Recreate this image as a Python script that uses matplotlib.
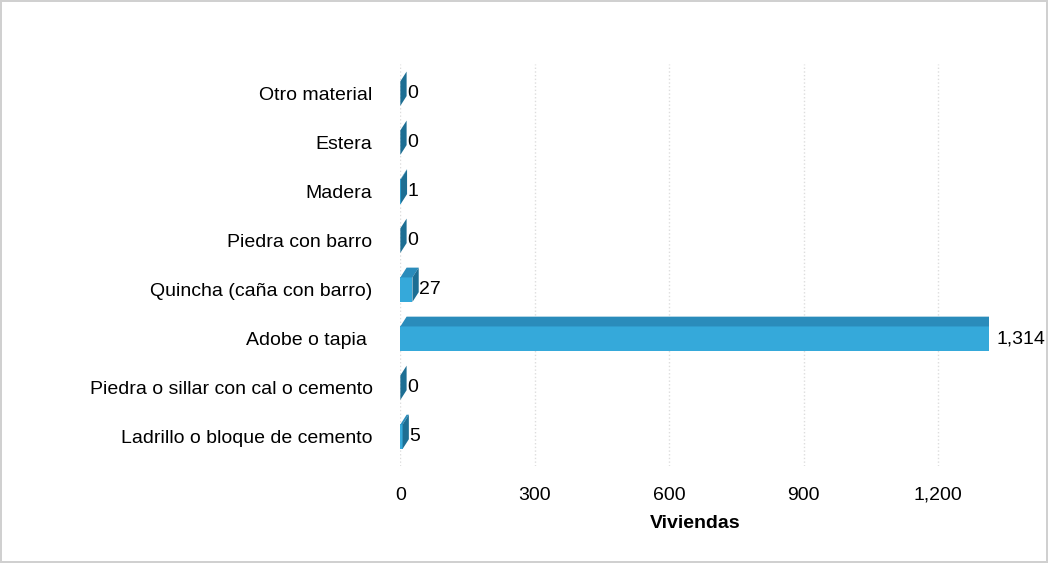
import matplotlib.pyplot as plt
from matplotlib.patches import Polygon

plt.rcParams['font.family'] = ['Liberation Sans Narrow', 'Liberation Sans', 'DejaVu Sans']

# material predominante en paredes
categorias = ['Ladrillo o bloque de cemento', 'Piedra o sillar con cal o cemento',
              'Adobe o tapia ', 'Quincha (caña con barro)', 'Piedra con barro',
              'Madera', 'Estera', 'Otro material']
viviendas = [5, 0, 1314, 27, 0, 1, 0, 0]
etiquetas = ['5', '0', '1,314', '27', '0', '1', '0', '0']
ticks_x = [0, 300, 600, 900, 1200]
ticks_txt = ['0', '300', '600', '900', '1,200']

fig = plt.figure(figsize=(10.48, 5.63), dpi=100)
fig.patch.set_edgecolor('#d0d0d0')
fig.patch.set_linewidth(1.5)
ax = fig.add_axes([0.382, 0.172, 0.562, 0.714])

alto = 0.5
dx = 14      # profundidad en unidades de datos
dy = 0.2     # profundidad en unidades de categoria
frente = '#35a9da'
lado = '#1d6e93'
tapa = '#2a8cbb'

for i, v in enumerate(viviendas):
    y0 = i - alto / 2
    y1 = i + alto / 2
    # cara frontal
    ax.add_patch(Polygon([(0, y0), (v, y0), (v, y1), (0, y1)],
                         closed=True, facecolor=frente, edgecolor='none', zorder=3))
    # cara superior
    ax.add_patch(Polygon([(0, y1), (v, y1), (v + dx, y1 + dy), (dx, y1 + dy)],
                         closed=True, facecolor=tapa, edgecolor='none', zorder=3))
    # cara lateral
    ax.add_patch(Polygon([(v, y0), (v + dx, y0 + dy), (v + dx, y1 + dy), (v, y1)],
                         closed=True, facecolor=lado, edgecolor='none', zorder=3))
    ax.text(v + dx + 1, i, etiquetas[i], va='center', ha='left', fontsize=14, zorder=4)

ax.set_xlim(0, 1314)
ax.set_ylim(-0.6, 7.6)
ax.set_yticks(range(len(categorias)))
ax.set_yticklabels(categorias, fontsize=14)
ax.set_xticks(ticks_x)
ax.set_xticklabels(ticks_txt, fontsize=14)
ax.tick_params(axis='both', length=0)
ax.tick_params(axis='x', pad=15)
ax.tick_params(axis='y', pad=20)
ax.grid(axis='x', color='#dddddd', linestyle=':', linewidth=1, zorder=0)
for s in ax.spines.values():
    s.set_visible(False)
ax.set_xlabel('Viviendas', fontsize=14, fontweight='bold', labelpad=8)

fig.savefig('out.png', dpi=100)
